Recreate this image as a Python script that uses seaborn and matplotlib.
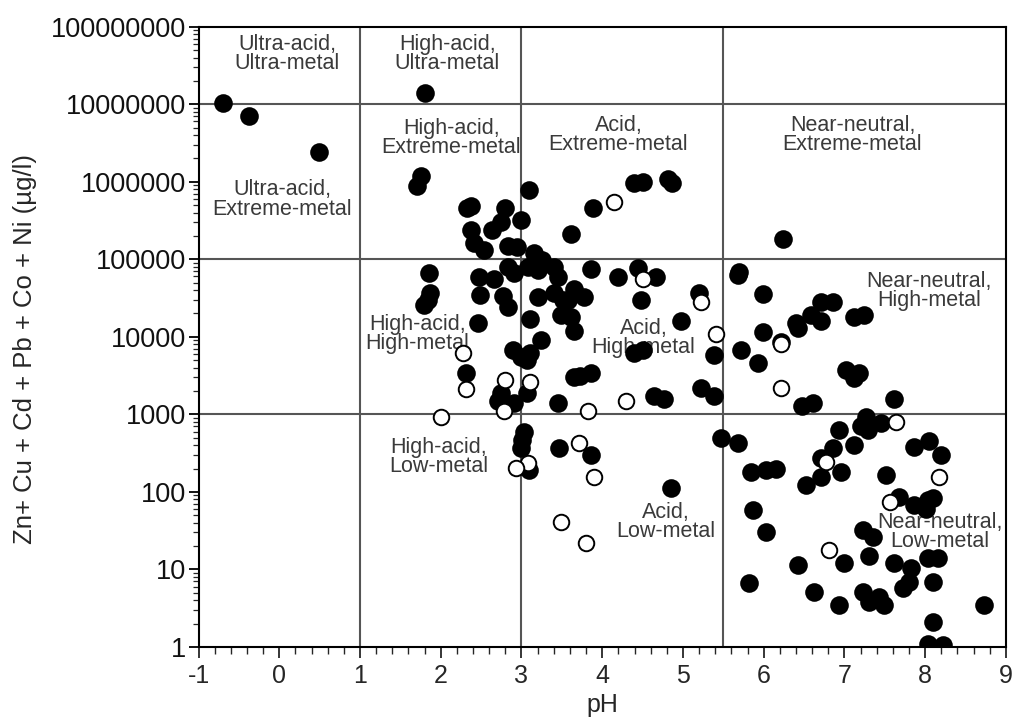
import numpy as np
import pandas as pd
import matplotlib.pyplot as plt
import matplotlib.ticker as mticker
import seaborn as sns

# filled circles
filled_ph = [-0.70, -0.38, 0.49, 1.80, 1.75, 1.70, 3.09, 4.39, 4.51, 4.81, 4.87, 3.89,
             2.33, 2.37, 2.80, 2.37, 2.64, 2.99, 2.74, 2.41, 2.53, 2.83, 2.95, 3.61,
             3.15, 3.26, 3.08, 2.83, 2.91, 3.20, 3.40, 3.45, 1.85, 2.47, 2.66, 3.86,
             4.20, 4.44, 4.66, 1.87, 1.84, 1.79, 2.49, 2.77, 2.83, 3.21, 3.40, 3.52,
             3.65, 3.77, 4.48, 3.49, 3.61, 3.65, 2.46, 3.11, 4.97, 3.24, 2.89, 2.99,
             3.11, 3.07, 4.39, 4.51, 2.31, 3.07, 3.65, 3.86, 3.73, 2.71, 2.74, 2.91,
             3.45, 4.64, 4.76, 5.20, 5.38, 5.22, 5.38, 5.47, 6.24, 5.69, 5.68, 5.99,
             5.99, 5.72, 5.93, 6.21, 6.40, 6.42, 6.58, 6.71, 6.86, 6.71, 7.12, 7.24,
             6.48, 6.61, 7.02, 7.12, 7.18, 7.61, 5.68, 6.93, 7.27, 7.29, 7.20, 7.45,
             7.12, 6.86, 6.71, 6.96, 6.71, 6.52, 5.84, 6.03, 6.15, 5.87, 6.03, 5.82,
             6.42, 6.99, 6.62, 6.93, 7.23, 7.30, 7.49, 7.43, 7.23, 7.35, 7.30, 7.51,
             7.67, 7.86, 8.03, 8.10, 8.01, 7.86, 8.05, 8.20, 7.61, 7.82, 7.80, 7.72,
             8.03, 8.16, 8.10, 8.10, 8.03, 8.22, 8.73, 3.03, 3.01, 2.99, 3.09, 3.46,
             3.86, 4.85, 3.57]
filled_metal = [1.05e7, 7.1e6, 2.4e6, 1.4e7, 1.2e6, 8.7e5, 7.9e5, 9.7e5, 1.0e6, 1.07e6, 9.7e5, 4.6e5,
                4.6e5, 4.9e5, 4.6e5, 2.4e5, 2.4e5, 3.2e5, 3.0e5, 1.6e5, 1.3e5, 1.5e5, 1.45e5, 2.1e5,
                1.2e5, 9.8e4, 8e4, 8e4, 6.6e4, 7.2e4, 8e4, 5.9e4, 6.6e4, 5.9e4, 5.5e4, 7.4e4,
                5.9e4, 7.8e4, 5.9e4, 3.7e4, 3.0e4, 2.6e4, 3.5e4, 3.4e4, 2.4e4, 3.3e4, 3.7e4, 3.0e4,
                4.1e4, 3.3e4, 3.0e4, 1.9e4, 1.8e4, 1.2e4, 1.5e4, 1.7e4, 1.6e4, 9.1e3, 6.8e3, 5.5e3,
                6.2e3, 5.0e3, 6.2e3, 6.8e3, 3.4e3, 1.9e3, 3.0e3, 3.4e3, 3.1e3, 1.5e3, 1.9e3, 1.4e3,
                1.4e3, 1.7e3, 1.6e3, 3.7e4, 5.9e3, 2.2e3, 1.7e3, 500, 1.8e5, 6.9e4, 6.3e4, 3.6e4,
                1.15e4, 6.8e3, 4.6e3, 8.7e3, 1.5e4, 1.3e4, 1.9e4, 2.8e4, 2.8e4, 1.6e4, 1.8e4, 1.9e4,
                1.3e3, 1.4e3, 3.7e3, 2.9e3, 3.4e3, 1.6e3, 430, 630, 930, 630, 700, 780,
                400, 370, 275, 180, 155, 123, 180, 190, 200, 59, 30, 6.7,
                11.4, 12, 5.1, 3.5, 5.1, 3.8, 3.5, 4.4, 32, 26, 15, 165,
                87, 68, 79, 83, 60, 380, 450, 300, 12, 10.5, 6.9, 5.8,
                14, 14, 6.9, 2.1, 1.1, 1.06, 3.5, 590, 470, 370, 190, 370,
                300, 112, 3.0e4]

# open circles
open_ph = [4.14, 4.51, 2.28, 2.31, 2.80, 3.11, 2.78, 2.00, 3.82, 4.29, 5.22, 5.41, 6.21,
           6.21, 7.64, 6.77, 8.17, 7.57, 6.81, 3.08, 2.93, 3.71, 3.90, 3.49, 3.80]
open_metal = [5.5e5, 5.5e4, 6.2e3, 2.1e3, 2.8e3, 2.6e3, 1.1e3, 930, 1.1e3, 1.5e3, 2.8e4, 1.1e4, 8.0e3,
              2.2e3, 800, 240, 155, 75, 18, 235, 205, 430, 155, 41, 22]

ytick_values = [1, 10, 100, 1000, 10000, 100000, 1000000, 10000000, 100000000]
ytick_labels = ["1", "10", "100", "1000", "10000", "100000", "1000000", "10000000", "100000000"]
xtick_values = [-1, 0, 1, 2, 3, 4, 5, 6, 7, 8, 9]

region_labels = ["Ultra-acid,\nUltra-metal", "High-acid,\nUltra-metal", "High-acid,\nExtreme-metal",
                 "Ultra-acid,\nExtreme-metal", "Acid,\nExtreme-metal", "Near-neutral,\nExtreme-metal",
                 "Near-neutral,\nHigh-metal", "High-acid,\nHigh-metal", "Acid,\nHigh-metal",
                 "High-acid,\nLow-metal", "Acid,\nLow-metal", "Near-neutral,\nLow-metal"]
region_ph = [0.1, 2.08, 2.13, 0.04, 4.2, 7.1, 8.05, 1.71, 4.51, 1.97, 4.79, 8.18]
region_metal = [4.4e7, 4.4e7, 3.7e6, 5.9e5, 4.0e6, 4.0e6, 3.9e4, 1.1e4, 9.7e3, 282, 41, 30]

ph_bounds = [1, 3, 5.5]
metal_bounds = [1e3, 1e5, 1e7]

sns.set_style("ticks")
plt.rcParams['font.family'] = ['Liberation Sans', 'DejaVu Sans']
plt.rcParams['axes.unicode_minus'] = False

df_filled = pd.DataFrame({"pH": filled_ph, "metal": filled_metal})
df_open = pd.DataFrame({"pH": open_ph, "metal": open_metal})

fig = plt.figure(figsize=(10.13, 7.22), dpi=100)
ax = fig.add_axes([0.196, 0.104, 0.797, 0.859])

for b in ph_bounds:
    ax.axvline(b, color="#555555", lw=1.5, zorder=1)
for b in metal_bounds:
    ax.axhline(b, color="#555555", lw=1.5, zorder=1)

sns.scatterplot(data=df_filled, x="pH", y="metal", ax=ax, color="black",
                edgecolor="black", s=180, linewidth=0, zorder=3)
sns.scatterplot(data=df_open, x="pH", y="metal", ax=ax, facecolor="white",
                edgecolor="black", s=125, linewidth=1.4, zorder=3)

ax.set_yscale("log")
ax.set_xlim(-1, 9)
ax.set_ylim(1, 1e8)

ax.yaxis.set_major_locator(mticker.FixedLocator(ytick_values))
ax.yaxis.set_major_formatter(mticker.FixedFormatter(ytick_labels))
ax.yaxis.set_minor_locator(mticker.LogLocator(base=10, subs=np.arange(2, 10), numticks=20))
ax.yaxis.set_minor_formatter(mticker.NullFormatter())
ax.xaxis.set_major_locator(mticker.FixedLocator(xtick_values))
ax.xaxis.set_minor_locator(mticker.MultipleLocator(0.2))

ax.tick_params(axis="y", which="major", direction="out", length=7, width=1.3,
               labelsize=19.5, colors="black", pad=2)
ax.tick_params(axis="y", which="minor", direction="out", length=4, width=0.9)
ax.tick_params(axis="x", which="major", direction="out", length=8, width=1.3,
               labelsize=18, pad=4)
ax.tick_params(axis="x", which="minor", direction="out", length=5, width=1.0)
for lab in ax.get_yticklabels():
    lab.set_color("#111111")
for lab in ax.get_xticklabels():
    lab.set_family(["Liberation Sans Narrow", "Liberation Sans"])
    lab.set_stretch("condensed")

for sp in ax.spines.values():
    sp.set_visible(True)
    sp.set_color("black")
    sp.set_linewidth(1.5)

ax.set_xlabel("pH", fontsize=18, labelpad=4)
ax.set_ylabel("Zn+ Cu + Cd + Pb + Co + Ni (\u00b5g/l)", fontsize=18.5)
ax.yaxis.set_label_coords(-0.2, 0.48)

for txt, px, py in zip(region_labels, region_ph, region_metal):
    ax.text(px, py, txt, ha="center", va="center", fontsize=15.5, color="#3a3a3a",
            linespacing=0.88, zorder=2)

fig.savefig("out.png", dpi=100)
